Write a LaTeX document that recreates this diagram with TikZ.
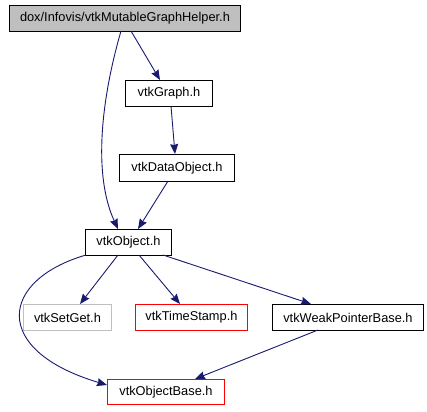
\documentclass[tikz,border=0pt]{standalone}
\usepackage{fontspec}
\setmainfont{Liberation Sans}
\usetikzlibrary{arrows.meta}
\definecolor{edgeblue}{HTML}{191970}
\definecolor{topgray}{HTML}{BFBFBF}
\begin{document}
\begin{tikzpicture}[x=1pt,y=-1pt,
  box/.style={draw=black,line width=0.9pt,inner sep=0pt,anchor=north west,font=\fontsize{12.8}{14}\selectfont},
  redbox/.style={box,draw=red},
  graybox/.style={box,draw=black!25},
  edge/.style={draw=edgeblue,line width=0.9pt,-{Stealth[length=10pt,width=8pt,inset=1pt]}}]
\useasboundingbox (0,0) rectangle (427,411);
\node[box,fill=topgray,minimum width=231pt,minimum height=26pt] (top) at (9,5) {dox/Infovis/vtkMutableGraphHelper.h};
\node[box,minimum width=87pt,minimum height=26pt] (graph) at (125,80) {vtkGraph.h};
\node[box,minimum width=115pt,minimum height=27pt] (data) at (119,154) {vtkDataObject.h};
\node[box,minimum width=86pt,minimum height=26pt] (obj) at (85,229) {vtkObject.h};
\node[graybox,minimum width=88pt,minimum height=26pt] (setget) at (23,304) {vtkSetGet.h};
\node[redbox,minimum width=112pt,minimum height=26pt] (ts) at (135,304) {vtkTimeStamp.h};
\node[box,minimum width=151pt,minimum height=26pt] (weak) at (272,304) {vtkWeakPointerBase.h};
\node[redbox,minimum width=117pt,minimum height=25pt] (base) at (107,379) {vtkObjectBase.h};
\coordinate (t1) at (131,31);
\coordinate (t2) at (121,31);
\draw[edge] (t1) -- (graph.north -| 160,0);
\draw[edge] (t2) .. controls (101,100) and (93,175) .. (118,229);
\draw[edge] (171,106) -- (175,154);
\draw[edge] (168,181) -- (138,229);
\draw[edge] (118,255) -- (80,304);
\draw[edge] (139,255) -- (180,304);
\draw[edge] (163,255) -- (311,304);
\draw[edge] (86,255) .. controls (0,280) and (-10,350) .. (107,385);
\draw[edge] (318,330) -- (195,379);
\end{tikzpicture}
\end{document}
